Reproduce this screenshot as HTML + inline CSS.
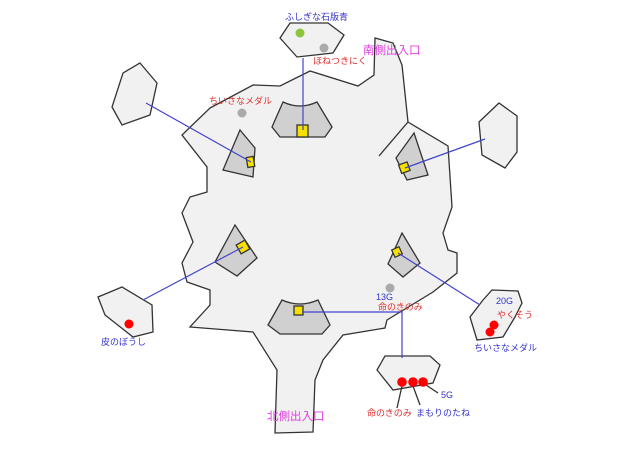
<!DOCTYPE html>
<html><head><meta charset="utf-8"><style>
html,body{margin:0;padding:0;background:#fff;}
svg{display:block;}
text{font-family:"Liberation Sans","Noto Sans CJK JP",sans-serif;}
</style></head><body>
<svg width="640" height="455" viewBox="0 0 640 455" xmlns="http://www.w3.org/2000/svg">
<g stroke="#333" stroke-width="1.3" stroke-linejoin="miter">
<!-- main area -->
<polygon fill="#f1f1f1" points="210,108 253,85 280,86 310,71 358,86 374,75 375,38 393,43 402,65 408,122 448,146 452,207 443,233 448,250 457,253 457,273 433,292 387,320 385,328 343,335 323,360 315,380 313,432 275,433 277,370 253,332 190,327 210,305 210,290 187,282 182,263 193,242 182,213 190,197 207,192 207,167 182,135"/>
<!-- outer boxes -->
<polygon fill="#f1f1f1" points="280,38 290,23 328,23 344,35 333,53 297,57"/>
<polygon fill="#f1f1f1" points="140,63 157,83 150,115 122,125 112,107 123,73"/>
<polygon fill="#f1f1f1" points="98,297 122,287 152,305 153,332 133,337 105,315"/>
<polygon fill="#f1f1f1" points="479,122 499,103 517,116 517,152 505,168 482,155"/>
<polygon fill="#f1f1f1" points="470,317 483,300 492,290 518,291 522,303 515,317 503,337 477,340"/>
<polygon fill="#f1f1f1" points="377,370 385,356 430,356 440,365 433,383 393,390"/>
<!-- interior wedges -->
<path fill="#d0d0d0" d="M283,102 Q300,110 317,102 L332,127 L325,137 L280,137 L272,127 Z"/>
<polygon fill="#d0d0d0" points="240,130 255,148 253,177 223,170"/>
<polygon fill="#d0d0d0" points="235,225 257,258 237,276 215,262"/>
<path fill="#d0d0d0" d="M282,300 Q300,308 318,300 L330,325 L322,334 L280,334 L268,325 Z"/>
<polygon fill="#d0d0d0" points="414,133 428,175 407,180 396,158"/>
<polygon fill="#d0d0d0" points="402,233 420,263 403,277 388,264"/>
<line x1="379" y1="156" x2="408" y2="122" fill="none"/>
<!-- yellow squares -->
<rect x="297" y="125" width="11" height="12" fill="#f5e000"/>
<rect x="247" y="157" width="7" height="10" fill="#f5e000" transform="rotate(-10 250 162)"/>
<rect x="238" y="242" width="10" height="10" fill="#f5e000" transform="rotate(-30 243 247)"/>
<rect x="294" y="306" width="9" height="9" fill="#f5e000"/>
<rect x="400" y="163" width="9" height="9" fill="#f5e000" transform="rotate(-20 405 168)"/>
<rect x="393" y="248" width="8" height="8" fill="#f5e000" transform="rotate(-25 397 252)"/>
<!-- black pointer lines -->
<line x1="402" y1="386" x2="397" y2="408"/>
<line x1="413" y1="386" x2="420" y2="405"/>
<line x1="423" y1="383" x2="438" y2="393"/>
</g>
<!-- blue connectors -->
<g stroke="#4444cc" stroke-width="1.2" fill="none">
<line x1="303" y1="58" x2="303" y2="130"/>
<line x1="146" y1="103" x2="251" y2="162"/>
<line x1="405" y1="168" x2="485" y2="139"/>
<line x1="243" y1="247" x2="143" y2="300"/>
<line x1="398" y1="253" x2="480" y2="305"/>
<polyline points="302,312 402,312 402,358"/>
</g>
<!-- dots -->
<circle cx="300" cy="33" r="4.5" fill="#8cc63f"/>
<circle cx="324" cy="48" r="4.5" fill="#aaa"/>
<circle cx="242" cy="113" r="4.5" fill="#aaa"/>
<circle cx="390" cy="288" r="4.5" fill="#aaa"/>
<circle cx="129" cy="324" r="4.5" fill="#f00"/>
<circle cx="494" cy="325" r="4.5" fill="#f00"/>
<circle cx="490" cy="332" r="4.5" fill="#f00"/>
<circle cx="402" cy="382" r="4.8" fill="#f00"/>
<circle cx="413" cy="382" r="4.8" fill="#f00"/>
<circle cx="423" cy="382" r="4.8" fill="#f00"/>
<!-- labels -->
<g font-size="9">
<text x="285" y="20" fill="#3333cc">ふしぎな石版青</text>
<text x="313" y="64" fill="#e03030">ほねつきにく</text>
<text x="209" y="104" fill="#e03030">ちいさなメダル</text>
<text x="376" y="300" fill="#3333cc">13G</text>
<text x="378" y="310" fill="#e03030">命のきのみ</text>
<text x="496" y="304" fill="#3333cc">20G</text>
<text x="497" y="318" fill="#e03030">やくそう</text>
<text x="474" y="351" fill="#3333cc">ちいさなメダル</text>
<text x="441" y="398" fill="#3333cc">5G</text>
<text x="367" y="416" fill="#e03030">命のきのみ</text>
<text x="416" y="416" fill="#3333cc">まもりのたね</text>
<text x="101" y="345" fill="#3333cc">皮のぼうし</text>
</g>
<g font-size="11.5" fill="#e040e0">
<text x="363" y="54">南側出入口</text>
<text x="267" y="420">北側出入口</text>
</g>
</svg>
</body></html>
